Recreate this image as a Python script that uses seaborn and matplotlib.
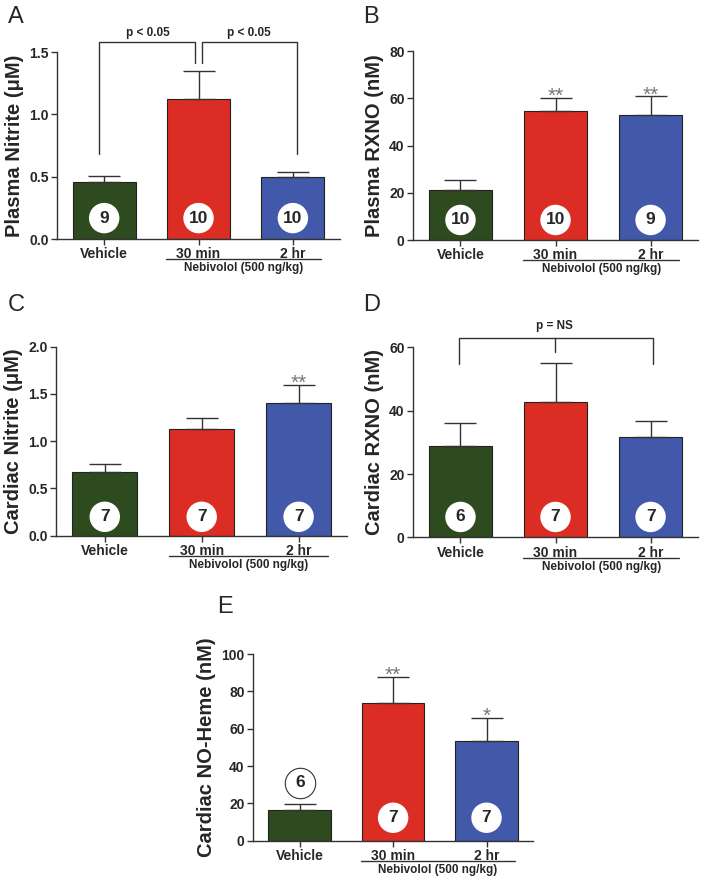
import numpy as np
import pandas as pd
import matplotlib
matplotlib.use("Agg")
import matplotlib.pyplot as plt
import matplotlib.transforms as mtransforms
import seaborn as sns

# Groups and colours
groups = ["Vehicle", "30 min", "2 hr"]
bar_colors = ["#2e4a1f", "#dc2d24", "#4159a8"]

# A: plasma nitrite (uM)
plasma_nitrite_mean = [0.455, 1.12, 0.495]
plasma_nitrite_sem = [0.05, 0.23, 0.04]
plasma_nitrite_n = [9, 10, 10]

# B: plasma RXNO (nM)
plasma_rxno_mean = [21.2, 54.6, 52.8]
plasma_rxno_sem = [4.2, 5.6, 8.0]
plasma_rxno_n = [10, 10, 9]
plasma_rxno_stars = ["", "**", "**"]

# C: cardiac nitrite (uM)
cardiac_nitrite_mean = [0.675, 1.13, 1.40]
cardiac_nitrite_sem = [0.08, 0.115, 0.20]
cardiac_nitrite_n = [7, 7, 7]
cardiac_nitrite_stars = ["", "", "**"]

# D: cardiac RXNO (nM)
cardiac_rxno_mean = [28.8, 42.7, 31.8]
cardiac_rxno_sem = [7.2, 12.5, 4.9]
cardiac_rxno_n = [6, 7, 7]

# E: cardiac NO-heme (nM)
noheme_mean = [16.4, 73.6, 53.4]
noheme_sem = [3.4, 14.1, 12.5]
noheme_n = [6, 7, 7]
noheme_stars = ["", "**", "*"]

sns.set_theme(style="ticks")
plt.rcParams["font.family"] = ["Liberation Sans", "DejaVu Sans"]
plt.rcParams["axes.edgecolor"] = "#333333"
plt.rcParams["axes.linewidth"] = 1.0

LINE = "#333333"


def draw_panel(ax, means, sems, ns, ylabel, ylim, yticks, fmt, stars=None,
               n_above=None, circle_y=0.11):
    df = pd.DataFrame({"group": groups, "value": means})
    sns.barplot(data=df, x="group", y="value", hue="group", palette=bar_colors,
                legend=False, ax=ax, width=0.67, saturation=1,
                edgecolor="#222222", linewidth=0.8, errorbar=None)
    x = np.arange(len(groups))
    ax.errorbar(x, means, yerr=[np.zeros(len(sems)), sems], fmt="none",
                ecolor=LINE, elinewidth=1.0, capsize=11.5, capthick=1.0, zorder=3)
    ax.set_xlim(-0.5, 2.5)
    ax.set_ylim(*ylim)
    ax.set_yticks(yticks)
    ax.set_yticklabels([fmt.format(t) for t in yticks])
    ax.set_xlabel("")
    ax.set_ylabel(ylabel, fontsize=14.5, fontweight="bold", labelpad=4)
    ax.tick_params(axis="both", length=4, width=1, color=LINE, labelsize=10, pad=2)
    for lbl in ax.get_xticklabels() + ax.get_yticklabels():
        lbl.set_fontweight("bold")
    sns.despine(ax=ax)

    trans = mtransforms.blended_transform_factory(ax.transData, ax.transAxes)
    # sample size circles
    for i, n in enumerate(ns):
        if n_above is not None and n_above[i] is not None:
            ax.scatter([i], [n_above[i]], s=480, facecolor="white", edgecolor=LINE,
                       linewidth=0.8, zorder=5, clip_on=False)
            ax.text(i, n_above[i], str(n), ha="center", va="center", fontsize=12.5,
                    fontweight="bold", zorder=6)
        else:
            ax.scatter([i], [circle_y], s=480, facecolor="white", edgecolor="none",
                       zorder=5, transform=trans, clip_on=False)
            ax.text(i, circle_y, str(n), ha="center", va="center", fontsize=12.5,
                    fontweight="bold", zorder=6, transform=trans)

    # significance stars
    if stars:
        for i, s in enumerate(stars):
            if s:
                ax.annotate(s, xy=(i, means[i] + sems[i]), xytext=(0, -3),
                            textcoords="offset points", ha="center", va="baseline",
                            fontsize=15, color="#777777", annotation_clip=False)

    # Nebivolol group line
    ax.plot([0.66, 2.3], [-0.107, -0.107], color=LINE, lw=1.0, transform=trans,
            clip_on=False)
    ax.text(1.48, -0.155, "Nebivolol (500 ng/kg)", ha="center", va="center",
            fontsize=8.5, fontweight="bold", transform=trans)


fig = plt.figure(figsize=(7.04, 8.84), dpi=100)

axA = fig.add_axes([0.081, 0.7296, 0.402, 0.2115])
axB = fig.add_axes([0.5866, 0.7285, 0.405, 0.2138])
axC = fig.add_axes([0.080, 0.394, 0.413, 0.2138])
axD = fig.add_axes([0.5866, 0.392, 0.405, 0.215])
axE = fig.add_axes([0.3594, 0.049, 0.398, 0.211])

draw_panel(axA, plasma_nitrite_mean, plasma_nitrite_sem, plasma_nitrite_n,
           "Plasma Nitrite (\u03bcM)", (0, 1.5), [0.0, 0.5, 1.0, 1.5], "{:.1f}",
           circle_y=0.112)
draw_panel(axB, plasma_rxno_mean, plasma_rxno_sem, plasma_rxno_n,
           "Plasma RXNO (nM)", (0, 80), [0, 20, 40, 60, 80], "{:.0f}",
           stars=plasma_rxno_stars, circle_y=0.106)
draw_panel(axC, cardiac_nitrite_mean, cardiac_nitrite_sem, cardiac_nitrite_n,
           "Cardiac Nitrite (\u03bcM)", (0, 2.0), [0.0, 0.5, 1.0, 1.5, 2.0], "{:.1f}",
           stars=cardiac_nitrite_stars, circle_y=0.10)
draw_panel(axD, cardiac_rxno_mean, cardiac_rxno_sem, cardiac_rxno_n,
           "Cardiac RXNO (nM)", (0, 60), [0, 20, 40, 60], "{:.0f}", circle_y=0.108)
draw_panel(axE, noheme_mean, noheme_sem, noheme_n,
           "Cardiac NO-Heme (nM)", (0, 100), [0, 20, 40, 60, 80, 100], "{:.0f}",
           stars=noheme_stars, n_above=[31, None, None], circle_y=0.123)

# A brackets
axA.plot([-0.05, -0.05, 0.965, 0.965], [0.68, 1.58, 1.58, 1.41], color=LINE, lw=1.0,
         clip_on=False)
axA.plot([1.035, 1.035, 2.04, 2.04], [1.41, 1.58, 1.58, 0.68], color=LINE, lw=1.0,
         clip_on=False)
axA.text(0.46, 1.655, "p < 0.05", ha="center", va="center", fontsize=8.5,
         fontweight="bold")
axA.text(1.53, 1.655, "p < 0.05", ha="center", va="center", fontsize=8.5,
         fontweight="bold")

# D bracket
axD.plot([-0.02, -0.02, 2.03, 2.03], [54.7, 63.1, 63.1, 54.7], color=LINE, lw=1.0,
         clip_on=False)
axD.plot([0.99, 0.99], [63.1, 58.4], color=LINE, lw=1.0, clip_on=False)
axD.text(0.99, 66.8, "p = NS", ha="center", va="center", fontsize=8.5,
         fontweight="bold")

# panel letters
for letter, (px, py) in zip("ABCDE", [(8, 17), (363, 17), (8, 305), (363, 305), (217, 607)]):
    fig.text(px / 704, 1 - py / 884, letter, fontsize=17, ha="left", va="center")

fig.savefig("out.png", dpi=100)
